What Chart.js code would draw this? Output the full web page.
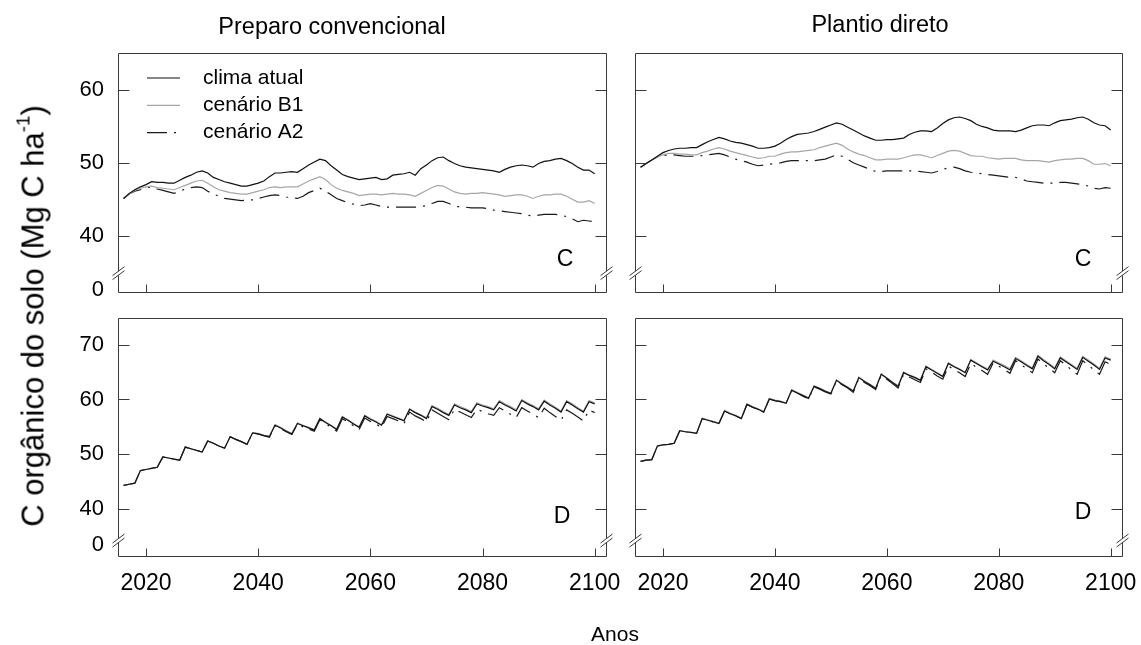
<!DOCTYPE html>
<html><head><meta charset="utf-8">
<script src="https://cdn.jsdelivr.net/npm/chart.js@4.4.0/dist/chart.umd.min.js"></script>
<style>
html,body{margin:0;padding:0;background:#fff;}
#wrap{position:relative;width:1141px;height:645px;overflow:hidden;font-family:"Liberation Sans",Arial,sans-serif;}
.cv{position:absolute;left:0;top:0;}
.txt{position:absolute;white-space:nowrap;color:#000;line-height:1;}
sup{font-size:60%;vertical-align:0.75em;line-height:0;}
</style></head><body>
<div id="wrap">
<canvas id="c1" class="cv" width="1141" height="645"></canvas>
<canvas id="c2" class="cv" width="1141" height="645"></canvas>
<canvas id="c3" class="cv" width="1141" height="645"></canvas>
<canvas id="c4" class="cv" width="1141" height="645"></canvas>
<div class="txt" style="left:332px;top:27px;transform:translate(-50%,-50%);font-size:23.5px;">Preparo convencional</div>
<div class="txt" style="left:880px;top:25px;transform:translate(-50%,-50%);font-size:23.5px;">Plantio direto</div>
<div class="txt" style="left:615px;top:633px;transform:translate(-50%,-50%);font-size:21px;">Anos</div>
<div class="txt" style="left:33px;top:316px;transform:translate(-50%,-50%) rotate(-90deg);font-size:31px;">C orgânico do solo (Mg C ha<sup>-1</sup>)</div>
</div>
<script>
const years = [2016,2017,2018,2019,2020,2021,2022,2023,2024,2025,
2026,2027,2028,2029,2030,2031,2032,2033,2034,2035,
2036,2037,2038,2039,2040,2041,2042,2043,2044,2045,
2046,2047,2048,2049,2050,2051,2052,2053,2054,2055,
2056,2057,2058,2059,2060,2061,2062,2063,2064,2065,
2066,2067,2068,2069,2070,2071,2072,2073,2074,2075,
2076,2077,2078,2079,2080,2081,2082,2083,2084,2085,
2086,2087,2088,2089,2090,2091,2092,2093,2094,2095,
2096,2097,2098,2099,2100];

const seriesNames = ['clima atual', 'cenário B1', 'cenário A2'];
const xTickValues = [2020, 2040, 2060, 2080, 2100];
const yTicksTop = [40, 50, 60];
const yTicksBottom = [40, 50, 60, 70];
const panelLetters = ['C', 'C', 'D', 'D'];

// Preparo convencional - C
const pcC_clima = [45.1,45.8,46.3,46.7,47.0,47.4,47.3,47.3,47.2,47.2,
47.6,48.0,48.3,48.7,48.9,48.6,48.0,47.7,47.4,47.2,
47.0,46.8,46.8,47.0,47.2,47.5,48.1,48.6,48.6,48.7,
48.8,48.7,49.2,49.7,50.1,50.5,50.3,49.6,49.0,48.4,
48.1,47.9,47.7,47.8,47.9,48.0,47.7,47.8,48.3,48.4,
48.5,48.7,48.3,49.2,49.7,50.3,50.7,50.8,50.3,49.9,
49.6,49.4,49.3,49.2,49.1,49.0,48.9,48.7,49.1,49.4,
49.6,49.7,49.6,49.4,49.9,50.2,50.3,50.5,50.6,50.3,
49.9,49.4,49.0,49.0,48.5];
const pcC_b1 = [45.1,45.7,46.2,46.5,46.7,46.8,46.6,46.5,46.4,46.3,
46.6,46.9,47.2,47.5,47.6,47.2,46.7,46.3,46.1,45.9,
45.8,45.7,45.7,45.9,46.1,46.3,46.6,46.7,46.6,46.7,
46.7,46.7,47.1,47.5,47.8,48.1,47.7,47.0,46.5,46.2,
46.0,45.8,45.5,45.6,45.7,45.7,45.6,45.7,45.8,45.7,
45.7,45.6,45.4,45.8,46.2,46.6,46.9,46.8,46.4,46.0,
45.8,45.7,45.8,45.8,45.9,45.8,45.7,45.6,45.4,45.5,
45.6,45.6,45.4,45.1,45.4,45.6,45.6,45.7,45.7,45.4,
45.0,44.6,44.6,44.8,44.4];
const pcC_a2 = [45.1,45.7,46.1,46.3,46.5,46.7,46.4,46.2,46.0,45.8,
46.1,46.4,46.6,46.7,46.6,46.1,45.7,45.4,45.1,45.0,
44.9,44.8,44.9,44.9,45.1,45.3,45.5,45.6,45.5,45.3,
45.2,45.1,45.4,45.9,46.2,46.5,46.1,45.6,45.1,44.8,
44.5,44.3,44.1,44.2,44.4,44.2,44.0,43.9,43.9,43.9,
43.9,43.9,43.9,44.0,44.1,44.4,44.7,44.7,44.4,44.1,
43.9,43.9,43.8,43.8,43.8,43.7,43.5,43.4,43.3,43.2,
43.1,43.0,42.8,42.7,42.8,42.9,42.9,42.9,42.8,42.6,
42.3,41.9,42.1,42.0,41.9];

// Plantio direto - C
const pdC_clima = [49.4,49.9,50.4,50.9,51.4,51.7,51.9,52.0,52.0,52.1,
52.1,52.5,52.9,53.2,53.5,53.3,53.0,52.8,52.7,52.5,
52.3,52.0,52.0,52.1,52.3,52.7,53.2,53.6,53.9,54.0,
54.1,54.3,54.6,54.9,55.2,55.5,55.3,54.9,54.5,54.1,
53.7,53.4,53.1,53.1,53.2,53.2,53.3,53.4,53.9,54.2,
54.4,54.4,54.3,54.8,55.4,55.9,56.2,56.3,56.1,55.8,
55.3,55.0,54.8,54.5,54.4,54.4,54.4,54.3,54.5,54.8,
55.1,55.2,55.2,55.1,55.5,55.8,55.9,56.0,56.2,56.3,
56.0,55.5,55.2,55.1,54.5];
const pdC_b1 = [49.4,49.9,50.4,50.8,51.1,51.3,51.3,51.2,51.2,51.1,
51.1,51.4,51.6,51.9,52.1,51.9,51.6,51.4,51.2,51.0,
50.8,50.6,50.7,50.9,50.9,51.2,51.4,51.5,51.5,51.6,
51.7,51.8,52.1,52.3,52.5,52.7,52.4,51.9,51.5,51.2,
51.0,50.7,50.4,50.4,50.5,50.5,50.5,50.7,50.9,51.1,
51.1,50.9,50.7,51.0,51.3,51.6,51.7,51.6,51.3,51.0,
50.9,50.9,50.7,50.6,50.5,50.6,50.6,50.6,50.4,50.3,
50.3,50.3,50.2,50.1,50.3,50.4,50.5,50.5,50.6,50.6,
50.3,49.8,49.8,49.9,49.6];
const pdC_a2 = [49.4,49.9,50.4,50.8,51.0,51.1,51.1,51.0,50.9,50.9,
50.9,51.0,51.1,51.2,51.3,51.1,50.8,50.5,50.3,50.1,
49.8,49.6,49.7,49.8,49.9,50.0,50.2,50.3,50.3,50.3,
50.3,50.3,50.4,50.5,50.8,51.1,50.9,50.5,50.0,49.7,
49.4,49.1,48.8,48.8,48.9,48.9,48.9,48.9,48.9,48.9,
48.8,48.7,48.6,48.8,49.1,49.3,49.4,49.2,48.9,48.7,
48.6,48.5,48.4,48.3,48.2,48.1,48.0,48.0,47.8,47.5,
47.4,47.3,47.2,47.2,47.2,47.3,47.3,47.2,47.1,47.0,
46.8,46.5,46.4,46.6,46.5];

// Preparo convencional - D
const pcD_clima = [44.3,44.5,44.7,47.0,47.2,47.4,47.6,49.5,49.3,49.1,
48.9,51.3,51.0,50.7,50.4,52.4,52.0,51.5,51.1,53.2,
52.7,52.3,51.8,53.9,53.7,53.4,53.2,55.3,54.8,54.2,
53.7,55.6,55.2,54.8,54.4,56.5,55.8,55.2,54.5,56.8,
56.2,55.5,54.9,57.0,56.4,55.9,55.3,57.3,56.9,56.5,
56.1,58.2,57.6,57.1,56.5,58.7,58.2,57.6,57.1,59.0,
58.5,58.1,57.6,59.2,58.8,58.5,58.1,59.6,59.0,58.5,
57.9,59.8,59.2,58.7,58.1,59.7,59.0,58.4,57.7,59.6,
59.0,58.3,57.7,59.6,59.2];
const pcD_b1 = [44.3,44.5,44.7,47.0,47.2,47.4,47.6,49.5,49.3,49.1,
48.9,51.3,51.0,50.7,50.4,52.4,52.0,51.5,51.1,53.2,
52.7,52.3,51.8,53.9,53.8,53.5,53.3,55.4,54.9,54.3,
53.8,55.7,55.3,54.9,54.5,56.6,55.9,55.3,54.6,56.9,
56.3,55.6,55.0,57.1,56.5,56.0,55.4,57.4,57.0,56.6,
56.2,58.3,57.7,57.2,56.7,58.9,58.4,57.8,57.3,59.2,
58.7,58.3,57.8,59.4,59.0,58.7,58.3,59.8,59.2,58.7,
58.1,60.0,59.4,58.9,58.3,59.9,59.2,58.6,57.9,59.8,
59.2,58.5,57.9,59.8,59.4];
const pcD_a2 = [44.3,44.5,44.7,47.0,47.2,47.4,47.6,49.5,49.3,49.1,
48.9,51.3,51.0,50.7,50.4,52.4,52.0,51.5,51.1,53.2,
52.7,52.3,51.8,53.9,53.7,53.4,53.1,55.2,54.7,54.1,
53.6,55.5,55.0,54.6,54.2,56.3,55.6,54.9,54.2,56.5,
55.9,55.2,54.5,56.6,56.0,55.5,54.9,56.9,56.5,56.1,
55.6,57.7,57.0,56.5,55.9,58.1,57.5,56.9,56.3,58.2,
57.7,57.2,56.7,58.2,57.8,57.4,57.1,58.5,57.9,57.3,
56.7,58.5,57.9,57.3,56.7,58.4,57.6,56.9,56.2,58.1,
57.5,56.8,56.1,58.1,57.6];

// Plantio direto - D
const pdD_clima = [48.7,48.9,49.0,51.5,51.7,51.8,52.0,54.3,54.1,54.0,
53.8,56.5,56.2,55.9,55.6,57.9,57.4,57.0,56.5,59.1,
58.6,58.2,57.7,60.1,59.8,59.6,59.3,61.7,61.2,60.7,
60.2,62.4,62.0,61.5,61.1,63.5,62.8,62.2,61.5,64.0,
63.3,62.7,62.0,64.6,63.9,63.1,62.4,64.9,64.4,64.0,
63.5,66.0,65.4,64.8,64.2,66.6,66.0,65.5,64.9,67.2,
66.6,66.0,65.4,67.0,66.5,66.0,65.4,67.5,66.9,66.2,
65.6,67.9,67.1,66.4,65.6,67.6,66.9,66.2,65.5,67.7,
67.0,66.3,65.5,67.6,67.2];
const pdD_b1 = [48.7,48.9,49.0,51.5,51.7,51.8,52.0,54.3,54.1,54.0,
53.8,56.6,56.3,56.0,55.7,58.0,57.5,57.1,56.6,59.2,
58.7,58.3,57.8,60.2,59.9,59.7,59.4,61.8,61.3,60.8,
60.3,62.5,62.1,61.6,61.2,63.6,62.9,62.3,61.6,64.1,
63.4,62.8,62.1,64.7,64.0,63.2,62.5,65.0,64.5,64.1,
63.6,66.1,65.5,64.9,64.3,66.7,66.1,65.6,65.0,67.3,
66.7,66.1,65.6,67.2,66.7,66.2,65.6,67.7,67.1,66.4,
65.8,68.1,67.3,66.6,65.8,67.8,67.1,66.4,65.7,67.9,
67.2,66.5,65.7,67.8,67.4];
const pdD_a2 = [48.7,48.9,49.0,51.5,51.7,51.8,52.0,54.3,54.1,54.0,
53.8,56.5,56.2,55.9,55.6,57.9,57.4,57.0,56.5,59.1,
58.6,58.2,57.7,60.1,59.8,59.6,59.3,61.7,61.2,60.6,
60.1,62.3,61.9,61.4,61.0,63.4,62.7,62.1,61.3,63.8,
63.1,62.5,61.8,64.4,63.7,62.9,62.1,64.6,64.1,63.6,
63.1,65.6,65.0,64.3,63.7,66.1,65.5,64.9,64.2,66.6,
65.9,65.3,64.6,66.7,66.1,65.5,64.8,67.1,66.4,65.6,
64.9,67.4,66.5,65.7,64.9,67.1,66.3,65.4,64.6,67.1,
66.3,65.4,64.6,66.9,66.4];

const FONT = '"Liberation Sans", Arial, sans-serif';
const AXIS_COLOR = '#3a3a3a';

function drawBreak(ctx, x, y) {
  ctx.save();
  ctx.fillStyle = '#fff';
  ctx.beginPath();
  ctx.moveTo(x - 6, y + 3); ctx.lineTo(x + 6, y - 6);
  ctx.lineTo(x + 6, y - 2); ctx.lineTo(x - 6, y + 7);
  ctx.closePath(); ctx.fill();
  ctx.strokeStyle = AXIS_COLOR; ctx.lineWidth = 1;
  ctx.beginPath();
  ctx.moveTo(x - 6, y + 3); ctx.lineTo(x + 6, y - 6);
  ctx.moveTo(x - 6, y + 7); ctx.lineTo(x + 6, y - 2);
  ctx.stroke();
  ctx.restore();
}

const decoPlugin = {
  id: 'panelDeco',
  afterDatasetsDraw(chart, args, o) {
    const ctx = chart.ctx;
    const {left, right, top, bottom} = chart.chartArea;
    const xs = chart.scales.x, ys = chart.scales.y;
    ctx.save();
    ctx.strokeStyle = AXIS_COLOR;
    ctx.lineWidth = 1;
    const L = Math.round(left) + 0.5, R = Math.round(right) - 0.5;
    const T = Math.round(top) + 0.5, B = Math.round(bottom) - 0.5;
    ctx.beginPath();
    ctx.rect(L, T, R - L, B - T);
    ctx.stroke();
    ctx.beginPath();
    o.yTicks.forEach(v => {
      const y = Math.round(ys.getPixelForValue(v)) + 0.5;
      ctx.moveTo(L, y); ctx.lineTo(L + 11, y);
      ctx.moveTo(R - 11, y); ctx.lineTo(R, y);
    });
    xTickValues.forEach(v => {
      const x = Math.round(xs.getPixelForValue(v)) + 0.5;
      ctx.moveTo(x, B); ctx.lineTo(x, B - 8);
    });
    ctx.stroke();
    ctx.restore();
    const by = ys.getPixelForValue(o.breakVal);
    drawBreak(ctx, L, by);
    drawBreak(ctx, R, by);
    ctx.save();
    ctx.fillStyle = '#000';
    ctx.font = '23px ' + FONT;
    ctx.textAlign = 'center';
    ctx.textBaseline = 'middle';
    ctx.fillText(o.letter, right - o.ldx, bottom - o.ldy);
    ctx.restore();
    if (o.legend) {
      chart.data.datasets.forEach((ds, i) => {
        const y = top + 25 + i * 27.3;
        ctx.save();
        ctx.strokeStyle = ds.borderColor;
        ctx.lineWidth = ds.borderWidth;
        ctx.setLineDash(ds.borderDash || []);
        ctx.beginPath();
        ctx.moveTo(left + 29, y); ctx.lineTo(left + 62, y);
        ctx.stroke();
        ctx.setLineDash([]);
        ctx.fillStyle = '#000';
        ctx.font = '21px ' + FONT;
        ctx.textAlign = 'left';
        ctx.textBaseline = 'middle';
        ctx.fillText(ds.label, left + 85, y);
        ctx.restore();
      });
    }
  }
};

function makePanel(id, p) {
  const yw = 50, xh = 40;
  const pad = {left: p.x1 - yw, right: 1141 - p.x2, top: p.y1, bottom: 645 - p.y2 - xh};
  const base = {pointRadius: 0, tension: 0, fill: false, borderWidth: 1.2};
  return new Chart(document.getElementById(id), {
    type: 'line',
    data: {
      labels: years,
      datasets: [
        Object.assign({label: seriesNames[0], data: p.clima, borderColor: '#111111'}, base),
        Object.assign({label: seriesNames[1], data: p.b1, borderColor: '#a6a6a6'}, base),
        Object.assign({label: seriesNames[2], data: p.a2, borderColor: '#1a1a1a', borderDash: [20, 7, 2, 7]}, base)
      ]
    },
    options: {
      responsive: false, animation: false, devicePixelRatio: 1,
      layout: {padding: pad},
      plugins: {
        legend: {display: false}, tooltip: {enabled: false},
        panelDeco: {yTicks: p.yTicks, breakVal: p.breakVal, letter: p.letter, ldx: p.ldx, ldy: p.ldy, legend: p.legend}
      },
      scales: {
        x: {
          type: 'linear', min: 2015, max: 2102.2,
          afterBuildTicks: s => { s.ticks = xTickValues.map(v => ({value: v})); },
          afterFit: s => { s.height = xh; s.paddingLeft = 0; s.paddingRight = 0; },
          grid: {display: false, drawTicks: false}, border: {display: false},
          ticks: {display: p.showX, padding: 13, color: '#000', maxRotation: 0, autoSkip: false,
                  font: {family: FONT, size: 23, lineHeight: 1.2}, callback: v => String(v)}
        },
        y: {
          type: 'linear', min: p.yMin, max: p.yMax,
          afterBuildTicks: s => { s.ticks = [p.zeroVal].concat(p.yTicks).map(v => ({value: v})); },
          afterFit: s => { s.width = yw; s.paddingTop = 0; s.paddingBottom = 0; },
          grid: {display: false, drawTicks: false}, border: {display: false},
          ticks: {display: p.showY, padding: 14, color: '#000', autoSkip: false,
                  font: {family: FONT, size: 22, lineHeight: 1.2},
                  callback: v => (v === p.zeroVal ? '0' : String(v))}
        }
      }
    },
    plugins: [decoPlugin]
  });
}

makePanel('c1', {x1: 118, x2: 607, y1: 53, y2: 293, yMin: 32.1, yMax: 65.1, zeroVal: 32.5, breakVal: 34.9,
  yTicks: yTicksTop, showX: false, showY: true, letter: panelLetters[0], ldx: 42, ldy: 33, legend: true,
  clima: pcC_clima, b1: pcC_b1, a2: pcC_a2});
makePanel('c2', {x1: 635, x2: 1123, y1: 53, y2: 293, yMin: 32.1, yMax: 65.1, zeroVal: 32.5, breakVal: 34.9,
  yTicks: yTicksTop, showX: false, showY: false, letter: panelLetters[1], ldx: 40, ldy: 33, legend: false,
  clima: pdC_clima, b1: pdC_b1, a2: pdC_a2});
makePanel('c3', {x1: 118, x2: 607, y1: 318, y2: 557, yMin: 31.2, yMax: 74.9, zeroVal: 33.4, breakVal: 34.3,
  yTicks: yTicksBottom, showX: true, showY: true, letter: panelLetters[2], ldx: 45, ldy: 40, legend: false,
  clima: pcD_clima, b1: pcD_b1, a2: pcD_a2});
makePanel('c4', {x1: 635, x2: 1123, y1: 318, y2: 557, yMin: 31.2, yMax: 74.9, zeroVal: 33.4, breakVal: 34.3,
  yTicks: yTicksBottom, showX: true, showY: false, letter: panelLetters[3], ldx: 40, ldy: 44, legend: false,
  clima: pdD_clima, b1: pdD_b1, a2: pdD_a2});
</script>
</body></html>
